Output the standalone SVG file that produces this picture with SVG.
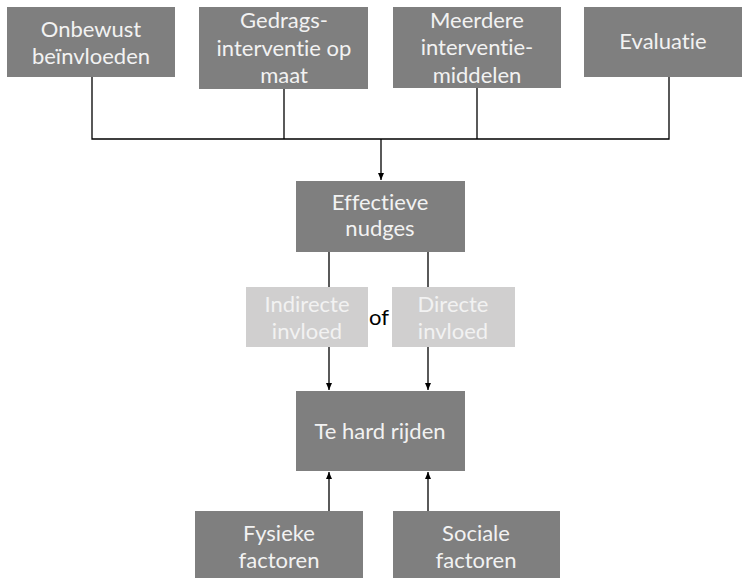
<svg xmlns="http://www.w3.org/2000/svg" width="746" height="578" viewBox="0 0 746 578">
<style>
.box{fill:#7f7f7f}
.lbox{fill:#d0cfcf}
.t{font-family:Lato,"Open Sans","Liberation Sans",sans-serif;font-size:22px;fill:#f2f2f2;text-anchor:middle;font-variant-ligatures:none}
.k{font-family:Lato,"Open Sans","Liberation Sans",sans-serif;font-size:22px;fill:#000;text-anchor:middle}
.c{stroke:#000;stroke-width:1.3;fill:none}
</style>
<defs>
<marker id="ah" markerWidth="8" markerHeight="8" refX="7" refY="4" orient="auto" markerUnits="userSpaceOnUse">
<path d="M0,1 L7,4 L0,7 Z" fill="#000"/>
</marker>
</defs>
<rect width="746" height="578" fill="#fff"/>
<g id="connectors">
<path class="c" d="M92,77 V139 H669 V77"/>
<path class="c" d="M284,89 V139"/>
<path class="c" d="M477,88 V139"/>
<path class="c" d="M381,139 V180" marker-end="url(#ah)"/>
<path class="c" d="M329,252 V287"/>
<path class="c" d="M428,252 V287"/>
<path class="c" d="M329,347 V390" marker-end="url(#ah)"/>
<path class="c" d="M428,347 V390" marker-end="url(#ah)"/>
<path class="c" d="M329,511 V472" marker-end="url(#ah)"/>
<path class="c" d="M428,511 V472" marker-end="url(#ah)"/>
</g>
<g id="onbewust">
<rect class="box" x="7" y="7" width="168" height="70"/>
<text class="t" x="91" y="37">Onbewust</text>
<text class="t" x="91" y="64">beïnvloeden</text>
</g>
<g id="gedrags">
<rect class="box" x="199" y="7" width="169" height="82"/>
<text class="t" x="284" y="28">Gedrags-</text>
<text class="t" x="284" y="56">interventie op</text>
<text class="t" x="284" y="83">maat</text>
</g>
<g id="meerdere">
<rect class="box" x="393" y="7" width="168" height="81"/>
<text class="t" x="477" y="28">Meerdere</text>
<text class="t" x="477" y="55">interventie-</text>
<text class="t" x="477" y="83">middelen</text>
</g>
<g id="evaluatie">
<rect class="box" x="584" y="7" width="158" height="70"/>
<text class="t" x="663" y="49">Evaluatie</text>
</g>
<g id="effectieve">
<rect class="box" x="296" y="181" width="169" height="71"/>
<text class="t" x="380" y="210">Effectieve</text>
<text class="t" x="380" y="236">nudges</text>
</g>
<g id="indirecte">
<rect class="lbox" x="246" y="287" width="122" height="60"/>
<text class="t" x="307" y="312">Indirecte</text>
<text class="t" x="307" y="339">invloed</text>
</g>
<g id="of">
<text class="k" x="379" y="325">of</text>
</g>
<g id="directe">
<rect class="lbox" x="392" y="287" width="123" height="60"/>
<text class="t" x="453" y="312">Directe</text>
<text class="t" x="453" y="339">invloed</text>
</g>
<g id="tehard">
<rect class="box" x="296" y="391" width="169" height="80"/>
<text class="t" x="380" y="439">Te hard rijden</text>
</g>
<g id="fysieke">
<rect class="box" x="195" y="511" width="168" height="67"/>
<text class="t" x="279" y="541">Fysieke</text>
<text class="t" x="279" y="568">factoren</text>
</g>
<g id="sociale">
<rect class="box" x="393" y="511" width="167" height="67"/>
<text class="t" x="476" y="541">Sociale</text>
<text class="t" x="476" y="568">factoren</text>
</g>
</svg>
